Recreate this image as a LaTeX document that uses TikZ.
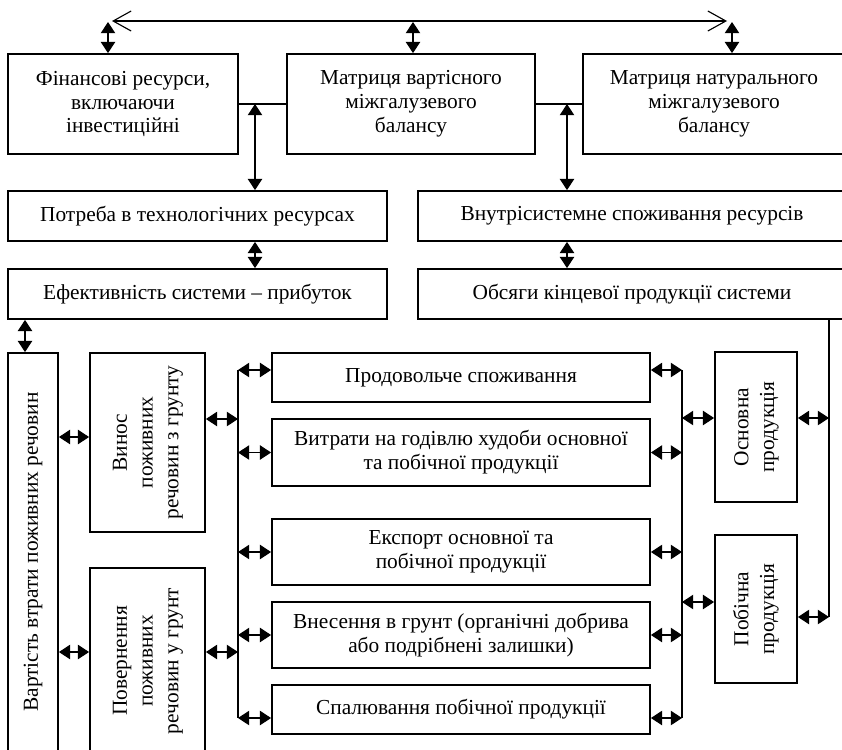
\documentclass[tikz,border=0pt]{standalone}
\usepackage{fontspec}
\setmainfont{Liberation Serif}
\usepackage{graphicx}
\usetikzlibrary{arrows.meta}
\renewcommand{\arraystretch}{1.08}

\begin{document}
\begin{tikzpicture}[
		every node/.style={font=\fontsize{15.2}{17}\selectfont},
		box/.style={draw, line width=1.3pt, align=center, inner sep=2pt},
		link/.style={line width=0.8pt},
		dbl/.style={line width=0.8pt, {Triangle[length=2.8mm,width=3.6mm]}-{Triangle[length=2.8mm,width=3.6mm]}},
		barb/.style={line width=0.8pt, {Straight Barb[length=4.5mm,width=5mm]}-{Straight Barb[length=4.5mm,width=5mm]}}
	]
			%%%%% START %%%%%
			
			\useasboundingbox (0, 0) rectangle (21.05, -18.725);
			\clip (0, 0) rectangle (21.05, -18.725);
			
			\node[box, minimum width=5.75cm, minimum height=2.5cm] (fin) at (3.075, -2.6) {Фінансові ресурси,\\ включаючи\\ інвестиційні};
			\node[box, minimum width=6.2cm, minimum height=2.5cm] (vart) at (10.275, -2.6) {Матриця вартісного\\ міжгалузевого\\ балансу};
			\node[box, minimum width=6.55cm, minimum height=2.5cm] (nat) at (17.85, -2.6) {Матриця натурального\\ міжгалузевого\\ балансу};
			
			\node[box, minimum width=9.475cm, minimum height=1.25cm] (potreba) at (4.9375, -5.4) {Потреба в технологічних ресурсах};
			\node[box, minimum width=10.7cm, minimum height=1.25cm] (vnutr) at (15.8, -5.4) {Внутрісистемне споживання ресурсів};
			\node[box, minimum width=9.475cm, minimum height=1.25cm] (efekt) at (4.9375, -7.35) {Ефективність системи – прибуток};
			\node[box, minimum width=10.7cm, minimum height=1.25cm] (obsyagy) at (15.8, -7.35) {Обсяги кінцевої продукції системи};
			
			\node[box, minimum width=1.25cm, minimum height=9.95cm] (vartist) at (0.825, -13.8) {\rotatebox{90}{Вартість втрати поживних речовин}};
			\node[box, minimum width=2.875cm, minimum height=4.475cm] (vynos) at (3.6875, -11.0625) {\rotatebox{90}{\begin{tabular}{@{}c@{}}Винос\\ поживних\\ речовин з грунту\end{tabular}}};
			\node[box, minimum width=2.875cm, minimum height=4.65cm] (povern) at (3.6875, -16.525) {\rotatebox{90}{\begin{tabular}{@{}c@{}}Повернення\\ поживних\\ речовин у грунт\end{tabular}}};
			
			\node[box, minimum width=9.45cm, minimum height=1.225cm] (prod) at (11.525, -9.4375) {Продовольче споживання};
			\node[box, minimum width=9.45cm, minimum height=1.675cm] (vytraty) at (11.525, -11.3125) {Витрати на годівлю худоби основної\\ та побічної продукції};
			\node[box, minimum width=9.45cm, minimum height=1.65cm] (eksport) at (11.525, -13.8) {Експорт основної та\\ побічної продукції};
			\node[box, minimum width=9.45cm, minimum height=1.65cm] (vnesennya) at (11.525, -15.875) {Внесення в грунт (органічні добрива\\ або подрібнені залишки)};
			\node[box, minimum width=9.45cm, minimum height=1.225cm] (spal) at (11.525, -17.7375) {Спалювання побічної продукції};
			
			\node[box, minimum width=2.05cm, minimum height=3.75cm] (osnovna) at (18.9, -10.675) {\rotatebox{90}{\begin{tabular}{@{}c@{}}Основна\\ продукція\end{tabular}}};
			\node[box, minimum width=2.05cm, minimum height=3.7cm] (pobichna) at (18.9, -15.225) {\rotatebox{90}{\begin{tabular}{@{}c@{}}Побічна\\ продукція\end{tabular}}};
			
			% top links
			\coordinate (topL) at (2.8, -0.525);
			\coordinate (topR) at (18.175, -0.525);
			\draw[barb] (topL) -- (topR);
			\coordinate (finT) at (2.7, -0.55);
			\coordinate (vartT) at (10.325, -0.55);
			\coordinate (natT) at (18.3, -0.55);
			\draw[dbl] (finT) -- (finT |- fin.north);
			\draw[dbl] (vartT) -- (vartT |- vart.north);
			\draw[dbl] (natT) -- (natT |- nat.north);
			
			\draw[link] (fin.east) -- (vart.west);
			\draw[link] (vart.east) -- (nat.west);
			\coordinate (j1) at (6.375, -2.6);
			\coordinate (j2) at (14.175, -2.6);
			\coordinate (j3) at (0.625, -7.35);
			\draw[dbl] (j1) -- (j1 |- potreba.north);
			\draw[dbl] (j2) -- (j2 |- vnutr.north);
			\draw[dbl] (j1 |- potreba.south) -- (j1 |- efekt.north);
			\draw[dbl] (j2 |- vnutr.south) -- (j2 |- obsyagy.north);
			\draw[dbl] (j3 |- efekt.south) -- (j3 |- vartist.north);
			
			% left part
			\coordinate (lv1) at (0, -10.925);
			\coordinate (lv2) at (0, -16.3);
			\coordinate (lv3) at (0, -10.475);
			\draw[dbl] (vartist.east |- lv1) -- (vynos.west |- lv1);
			\draw[dbl] (vartist.east |- lv2) -- (povern.west |- lv2);
			
			\coordinate (lbT) at (5.95, -9.25);
			\coordinate (lbB) at (5.95, -17.95);
			\draw[link] (lbT) -- (lbB);
			\draw[dbl] (vynos.east |- lv3) -- (lbT |- lv3);
			\draw[dbl] (povern.east |- lv2) -- (lbT |- lv2);
			\draw[dbl] (lbT) -- (lbT -| prod.west);
			\draw[dbl] (lbT |- vytraty.west) -- (vytraty.west);
			\draw[dbl] (lbT |- eksport.west) -- (eksport.west);
			\draw[dbl] (lbT |- vnesennya.west) -- (vnesennya.west);
			\draw[dbl] (lbB) -- (lbB -| spal.west);
			
			% right part
			\coordinate (rbT) at (17.05, -9.25);
			\coordinate (rbB) at (17.05, -17.95);
			\draw[link] (rbT) -- (rbB);
			\draw[dbl] (rbT -| prod.east) -- (rbT);
			\draw[dbl] (vytraty.east) -- (rbT |- vytraty.east);
			\draw[dbl] (eksport.east) -- (rbT |- eksport.east);
			\draw[dbl] (vnesennya.east) -- (rbT |- vnesennya.east);
			\draw[dbl] (rbB -| spal.east) -- (rbB);
			
			\coordinate (lv4) at (0, -10.45);
			\coordinate (lv5) at (0, -15.05);
			\draw[dbl] (rbT |- lv4) -- (osnovna.west |- lv4);
			\draw[dbl] (rbT |- lv5) -- (pobichna.west |- lv5);
			
			\coordinate (rl) at (20.725, -15.425);
			\draw[link] (rl |- obsyagy.south) -- (rl);
			\draw[dbl] (osnovna.east |- lv4) -- (rl |- lv4);
			\draw[dbl] (pobichna.east |- rl) -- (rl);
			
			%%%%% END %%%%%
		\end{tikzpicture}
\end{document}
